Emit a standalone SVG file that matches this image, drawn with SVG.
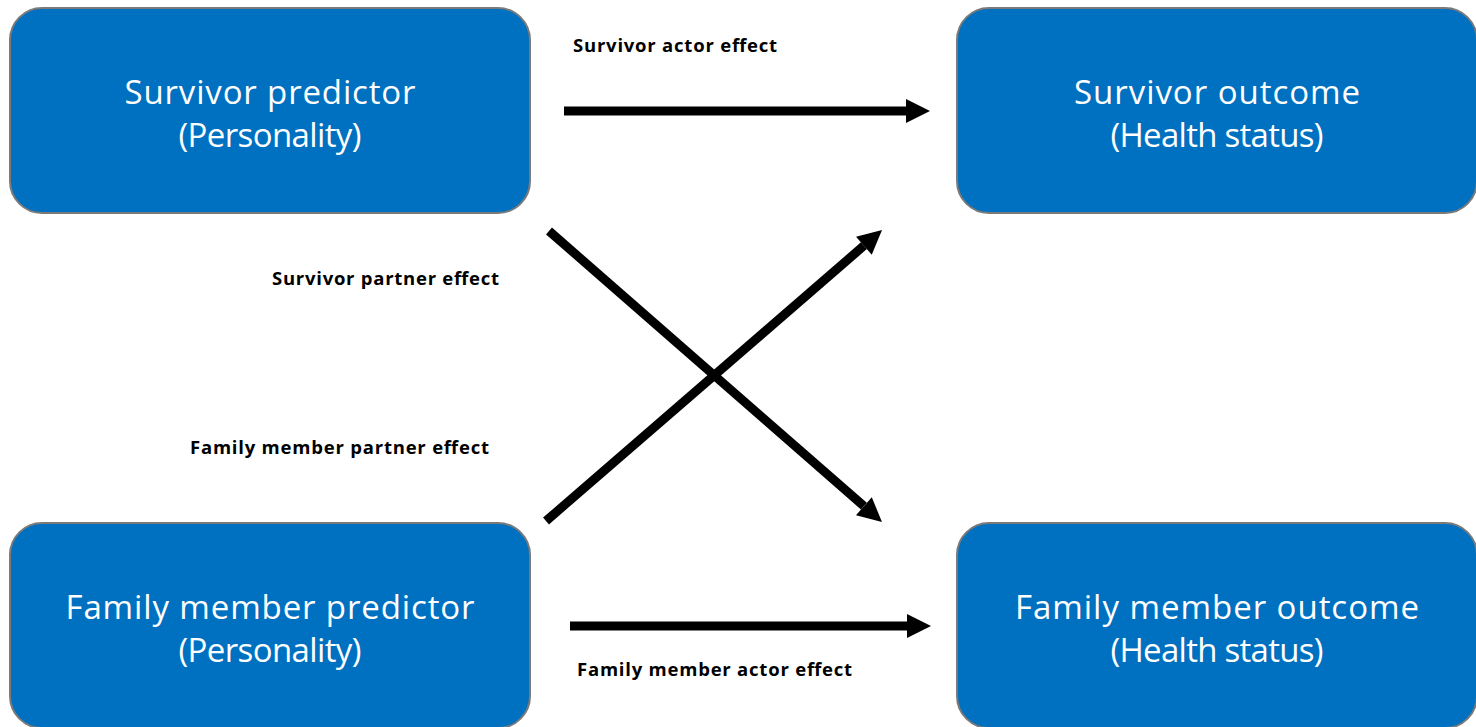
<svg xmlns="http://www.w3.org/2000/svg" width="1476" height="727" viewBox="0 0 1476 727">
<style>
.box{fill:#0070C0;stroke:#7a7a7a;stroke-width:2}
.t{font-family:"Open Sans","Noto Sans",sans-serif;font-size:33px;fill:#ffffff;text-anchor:middle}
.lbl{font-family:"Open Sans","Noto Sans",sans-serif;font-size:18.5px;font-weight:bold;fill:#000000}
.edge{stroke:#000;stroke-width:9;fill:none;marker-end:url(#ah)}
</style>
<defs>
<marker id="ah" markerUnits="userSpaceOnUse" markerWidth="25" markerHeight="25" refX="0" refY="12" orient="auto" viewBox="0 0 25 24" overflow="visible">
<path d="M0,0 L24,12 L0,24 Z" fill="#000"/>
</marker>
</defs>
<rect width="1476" height="727" fill="#ffffff"/>
<g id="n-survivor-predictor">
<rect class="box" x="10" y="8" width="520" height="205" rx="32"/>
<text class="t" x="270" y="104" textLength="291">Survivor predictor</text>
<text class="t" x="270" y="147" textLength="183">(Personality)</text>
</g>
<g id="n-survivor-outcome">
<rect class="box" x="957" y="8" width="520" height="205" rx="32"/>
<text class="t" x="1217" y="104" textLength="286">Survivor outcome</text>
<text class="t" x="1217" y="147" textLength="213">(Health status)</text>
</g>
<g id="n-family-predictor">
<rect class="box" x="10" y="523" width="520" height="205" rx="32"/>
<text class="t" x="270" y="619" textLength="409">Family member predictor</text>
<text class="t" x="270" y="662" textLength="183">(Personality)</text>
</g>
<g id="n-family-outcome">
<rect class="box" x="957" y="523" width="520" height="205" rx="32"/>
<text class="t" x="1217" y="619" textLength="404">Family member outcome</text>
<text class="t" x="1217" y="662" textLength="213">(Health status)</text>
</g>
<g id="connectors">
<line class="edge" x1="564" y1="111" x2="906" y2="111"/>
<line class="edge" x1="570" y1="626" x2="907" y2="626"/>
<line class="edge" x1="549" y1="231" x2="863.9" y2="506.2"/>
<line class="edge" x1="546" y1="521" x2="863.9" y2="245.7"/>
<text class="lbl" x="573" y="52" textLength="204">Survivor actor effect</text>
<text class="lbl" x="272" y="285" textLength="227">Survivor partner effect</text>
<text class="lbl" x="190" y="454" textLength="299">Family member partner effect</text>
<text class="lbl" x="577" y="676" textLength="275">Family member actor effect</text>
</g>
</svg>
